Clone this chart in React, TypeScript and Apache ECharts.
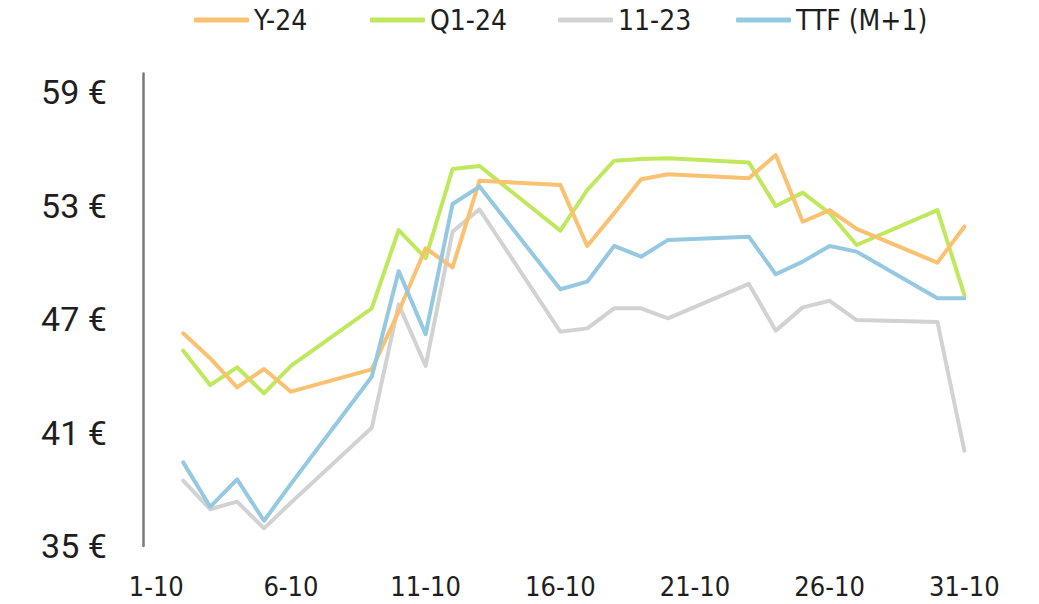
import React, { useEffect, useRef } from "react";
import * as echarts from "echarts";

const categories = [
  "1-10", "2-10", "3-10", "4-10", "5-10", "6-10", "7-10", "8-10", "9-10", "10-10",
  "11-10", "12-10", "13-10", "14-10", "15-10", "16-10", "17-10", "18-10", "19-10", "20-10",
  "21-10", "22-10", "23-10", "24-10", "25-10", "26-10", "27-10", "28-10", "29-10", "30-10", "31-10",
];

const seriesNames = ["Y-24", "Q1-24", "11-23", "TTF (M+1)"];

const y24 = [
  null, 46.25, 44.93, 43.39, 44.36, 43.16, null, null, 44.34, 47.4,
  50.75, 49.74, 54.32, null, null, 54.1, 50.87, 52.6, 54.4, 54.66,
  null, null, 54.45, 55.68, 52.15, 52.77, 51.77, null, null, 49.99, 51.89,
];

const q124 = [
  null, 45.33, 43.51, 44.45, 43.07, 44.52, null, null, 47.57, 51.71,
  50.22, 54.94, 55.1, null, null, 51.68, 53.83, 55.38, 55.47, 55.51,
  null, null, 55.28, 52.98, 53.69, 52.6, 50.92, null, null, 52.77, 48.28,
];

const m1123 = [
  null, 38.45, 36.94, 37.34, 35.93, 37.29, null, null, 41.25, 47.78,
  44.52, 51.63, 52.81, null, null, 46.33, 46.51, 47.57, 47.57, 47.04,
  null, null, 48.86, 46.39, 47.62, 47.97, 46.95, null, null, 46.85, 40.04,
];

const ttf = [
  null, 39.42, 37.07, 38.52, 36.33, 38.28, null, null, 43.95, 49.54,
  46.2, 53.09, 54.01, null, null, 48.58, 48.98, 50.87, 50.3, 51.19,
  null, null, 51.36, 49.37, 50.04, 50.87, 50.57, null, null, 48.1, 48.1,
];

const colors = ["#F9C170", "#BFE85C", "#D2D2D2", "#95C8E1"];
const legendLefts = [194, 370, 558, 736];
const narrowFont = "'DejaVu Sans Condensed', Roboto, sans-serif";

export default function App() {
  const ref = useRef<HTMLDivElement>(null);

  useEffect(() => {
    if (!ref.current) return;
    const chart = echarts.init(ref.current, undefined, { renderer: "svg" });
    const dataSets = [y24, q124, m1123, ttf];
    const option: any = {
      animation: false,
      backgroundColor: "#ffffff",
      legend: seriesNames.map((n, i) => ({
        data: [n],
        left: legendLefts[i],
        top: 6,
        icon: "roundRect",
        itemWidth: 55,
        itemHeight: 5,
        itemGap: 0,
        padding: 0,
        textStyle: {
          fontFamily: narrowFont,
          fontSize: 28,
          color: "#1e1e1e",
        },
      })),
      grid: {
        left: 142.8,
        right: 61.2,
        top: 73.4,
        bottom: 58.1,
        containLabel: false,
      },
      xAxis: {
        type: "category",
        data: categories,
        boundaryGap: true,
        axisLine: { show: false },
        axisTick: { show: false },
        splitLine: { show: false },
        axisLabel: {
          interval: 4,
          margin: 27,
          fontFamily: narrowFont,
          fontSize: 27,
          color: "#1e1e1e",
        },
      },
      yAxis: {
        type: "value",
        min: 35,
        max: 60,
        interval: 6,
        axisLine: { show: true, lineStyle: { color: "#7a7a7a", width: 2.5 } },
        axisTick: { show: false },
        splitLine: { show: false },
        axisLabel: {
          showMaxLabel: false,
          margin: 36,
          fontFamily: "Roboto",
          fontSize: 34,
          color: "#1e1e1e",
          formatter: (v: number) => (v === 60 ? "" : v + " €"),
        },
      },
      series: seriesNames.map((n, i) => ({
        name: n,
        type: "line",
        data: dataSets[i],
        connectNulls: true,
        showSymbol: false,
        symbol: "none",
        color: colors[i],
        lineStyle: { color: colors[i], width: 4, join: "round", cap: "round" },
        z: i === 3 ? 5 : 2 + (3 - i),
      })),
    };
    chart.setOption(option);
    return () => chart.dispose();
  }, []);

  return (
    <div
      ref={ref}
      style={{ position: "absolute", left: 0, top: 0, width: 1039, height: 604 }}
    />
  );
}
